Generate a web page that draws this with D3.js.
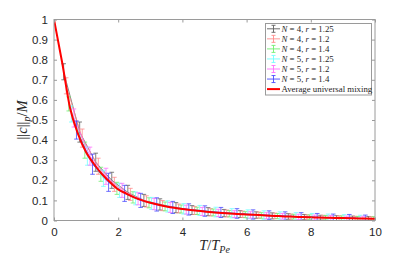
<!DOCTYPE html>
<html>
<head>
<meta charset="utf-8">
<script src="https://cdn.jsdelivr.net/npm/d3@7"></script>
<style>
  body { margin: 0; background: #fff; }
  svg { display: block; }
</style>
</head>
<body>
<div id="chart"></div>
<script>
// normalised concentration decay, six mixing configurations + average curve

const avgT = [0, 0.25, 0.5, 0.75, 1, 1.25, 1.5, 1.75, 2, 2.25, 2.5, 2.75, 3, 3.25, 3.5, 3.75, 4, 4.25, 4.5, 4.75, 5,
  5.25, 5.5, 5.75, 6, 6.25, 6.5, 6.75, 7, 7.25, 7.5, 7.75, 8, 8.25, 8.5, 8.75, 9, 9.25, 9.5, 9.75, 10];
const avgVal = [1, 0.79, 0.56, 0.43, 0.34, 0.28, 0.23, 0.19, 0.155, 0.134, 0.115, 0.1, 0.088, 0.078, 0.07, 0.063, 0.057,
  0.052, 0.048, 0.044, 0.04, 0.037, 0.035, 0.032, 0.03, 0.028, 0.026, 0.024, 0.022, 0.02, 0.019, 0.017, 0.016, 0.015,
  0.014, 0.013, 0.012, 0.011, 0.01, 0.0095, 0.009];

const blackT = [0.3, 0.8, 1.3, 1.8, 2.3, 2.8, 3.3, 3.8, 4.3, 4.8, 5.3, 5.8, 6.3, 6.8, 7.3, 7.8, 8.3, 8.8, 9.3, 9.8];
const blackVal = [0.74, 0.44, 0.29, 0.2, 0.14, 0.1, 0.08, 0.064, 0.052, 0.044, 0.037, 0.032, 0.027, 0.023, 0.02, 0.017, 0.014, 0.012, 0.011, 0.009];
const blackErr = [0.04, 0.05, 0.045, 0.04, 0.035, 0.03, 0.028, 0.025, 0.022, 0.02, 0.018, 0.017, 0.016, 0.015, 0.014, 0.013, 0.012, 0.012, 0.011, 0.011];

const redT = [0.38, 0.88, 1.38, 1.88, 2.38, 2.88, 3.38, 3.88, 4.38, 4.88, 5.38, 5.88, 6.38, 6.88, 7.38, 7.88, 8.38, 8.88, 9.38, 9.88];
const redVal = [0.67, 0.41, 0.27, 0.18, 0.13, 0.095, 0.074, 0.06, 0.05, 0.041, 0.035, 0.031, 0.027, 0.023, 0.019, 0.016, 0.014, 0.012, 0.01, 0.009];
const redErr = [0.04, 0.045, 0.04, 0.035, 0.03, 0.028, 0.025, 0.022, 0.02, 0.018, 0.017, 0.016, 0.015, 0.014, 0.013, 0.012, 0.012, 0.011, 0.011, 0.01];

const greenT = [0.46, 0.96, 1.46, 1.96, 2.46, 2.96, 3.46, 3.96, 4.46, 4.96, 5.46, 5.96, 6.46, 6.96, 7.46, 7.96, 8.46, 8.96, 9.46, 9.96];
const greenVal = [0.58, 0.35, 0.23, 0.16, 0.115, 0.088, 0.07, 0.057, 0.048, 0.04, 0.034, 0.029, 0.025, 0.022, 0.019, 0.016, 0.014, 0.012, 0.01, 0.009];
const greenErr = [0.035, 0.04, 0.035, 0.03, 0.028, 0.025, 0.022, 0.02, 0.018, 0.017, 0.016, 0.015, 0.014, 0.013, 0.012, 0.012, 0.011, 0.011, 0.01, 0.01];

const cyanT = [0.54, 1.04, 1.54, 2.04, 2.54, 3.04, 3.54, 4.04, 4.54, 5.04, 5.54, 6.04, 6.54, 7.04, 7.54, 8.04, 8.54, 9.04, 9.54];
const cyanVal = [0.53, 0.32, 0.21, 0.15, 0.11, 0.085, 0.07, 0.058, 0.05, 0.042, 0.036, 0.031, 0.027, 0.023, 0.02, 0.017, 0.015, 0.013, 0.011];
const cyanErr = [0.04, 0.045, 0.04, 0.035, 0.032, 0.03, 0.028, 0.026, 0.025, 0.024, 0.023, 0.022, 0.021, 0.02, 0.019, 0.018, 0.017, 0.016, 0.015];

const magentaT = [0.62, 1.12, 1.62, 2.12, 2.62, 3.12, 3.62, 4.12, 4.62, 5.12, 5.62, 6.12, 6.62, 7.12, 7.62, 8.12, 8.62, 9.12, 9.62];
const magentaVal = [0.51, 0.32, 0.22, 0.15, 0.108, 0.082, 0.065, 0.054, 0.045, 0.038, 0.032, 0.028, 0.024, 0.021, 0.018, 0.015, 0.013, 0.011, 0.01];
const magentaErr = [0.045, 0.045, 0.04, 0.035, 0.03, 0.028, 0.025, 0.022, 0.02, 0.018, 0.017, 0.016, 0.015, 0.014, 0.013, 0.012, 0.012, 0.011, 0.011];

const blueT = [0.7, 1.2, 1.7, 2.2, 2.7, 3.2, 3.7, 4.2, 4.7, 5.2, 5.7, 6.2, 6.7, 7.2, 7.7, 8.2, 8.7, 9.2, 9.7];
const blueVal = [0.45, 0.28, 0.19, 0.135, 0.1, 0.08, 0.065, 0.055, 0.047, 0.04, 0.035, 0.03, 0.026, 0.022, 0.019, 0.016, 0.014, 0.012, 0.01];
const blueErr = [0.045, 0.05, 0.045, 0.04, 0.035, 0.033, 0.03, 0.028, 0.026, 0.025, 0.024, 0.023, 0.022, 0.021, 0.02, 0.019, 0.018, 0.018, 0.017];

const seriesN = ['4', '4', '4', '5', '5', '5'];
const seriesR = ['1.25', '1.2', '1.4', '1.25', '1.2', '1.4'];
const seriesColors = ['#606060', '#ff8a8a', '#70ee70', '#70ffff', '#ff70ff', '#4a4aff'];

const xTicks = [0, 2, 4, 6, 8, 10];
const yTicks = [0, 0.1, 0.2, 0.3, 0.4, 0.5, 0.6, 0.7, 0.8, 0.9, 1];

const series = [
  [blackT, blackVal, blackErr], [redT, redVal, redErr], [greenT, greenVal, greenErr],
  [cyanT, cyanVal, cyanErr], [magentaT, magentaVal, magentaErr], [blueT, blueVal, blueErr]
].map(function (s, i) {
  return {
    n: seriesN[i], r: seriesR[i], color: seriesColors[i],
    pts: s[0].map(function (t, j) { return { t: t, v: s[1][j], e: s[2][j] }; })
  };
});

const svgWidth = 415;
const svgHeight = 257;
const plotLeft = 54, plotRight = 375, plotTop = 19.5, plotBottom = 220.5;
const axisColor = '#9a9a9a';
const textColor = '#262626';

const svg = d3.select('#chart').append('svg')
  .attr('width', svgWidth)
  .attr('height', svgHeight);

const xScale = d3.scaleLinear().domain([0, 10]).range([plotLeft, plotRight]);
const yScale = d3.scaleLinear().domain([0, 1]).range([plotBottom, plotTop]);

svg.append('clipPath').attr('id', 'clip')
  .append('rect')
  .attr('x', plotLeft).attr('y', plotTop)
  .attr('width', plotRight - plotLeft).attr('height', plotBottom - plotTop);

const plot = svg.append('g').attr('clip-path', 'url(#clip)');

// series lines and error bars
const line = d3.line().x((d) => xScale(d.t)).y((d) => yScale(d.v));
const cap = 2.3;
series.forEach(function (s) {
  const g = plot.append('g');
  g.append('path')
    .datum(s.pts)
    .attr('d', line)
    .attr('fill', 'none')
    .attr('stroke', s.color)
    .attr('stroke-width', 0.8);
  const bars = g.selectAll('g.bar').data(s.pts).enter().append('g').attr('class', 'bar')
    .attr('stroke', s.color).attr('stroke-width', 0.8);
  bars.append('line')
    .attr('x1', (d) => xScale(d.t)).attr('x2', (d) => xScale(d.t))
    .attr('y1', (d) => yScale(d.v - d.e)).attr('y2', (d) => yScale(d.v + d.e));
  bars.append('line')
    .attr('x1', (d) => xScale(d.t) - cap).attr('x2', (d) => xScale(d.t) + cap)
    .attr('y1', (d) => yScale(d.v + d.e)).attr('y2', (d) => yScale(d.v + d.e));
  bars.append('line')
    .attr('x1', (d) => xScale(d.t) - cap).attr('x2', (d) => xScale(d.t) + cap)
    .attr('y1', (d) => yScale(d.v - d.e)).attr('y2', (d) => yScale(d.v - d.e));
});

// average curve
const avgData = avgT.map((t, i) => ({ t: t, v: avgVal[i] }));
plot.append('path')
  .datum(avgData)
  .attr('d', d3.line().x((d) => xScale(d.t)).y((d) => yScale(d.v)).curve(d3.curveMonotoneX))
  .attr('fill', 'none')
  .attr('stroke', '#ff0000')
  .attr('stroke-width', 2);

// axes (box with inward ticks)
function styleAxis(g) {
  g.select('.domain').remove();
  g.selectAll('.tick line').attr('stroke', axisColor);
  g.selectAll('.tick text')
    .attr('fill', textColor)
    .style('font-family', 'Liberation Sans, Arial, sans-serif')
    .style('font-size', '11.5px');
}

svg.append('g')
  .attr('transform', 'translate(0,' + plotBottom + ')')
  .call(d3.axisBottom(xScale).tickValues(xTicks).tickFormat(d3.format('d')).tickSizeInner(-3).tickPadding(7))
  .call(styleAxis);
svg.append('g')
  .attr('transform', 'translate(0,' + plotTop + ')')
  .call(d3.axisTop(xScale).tickValues(xTicks).tickFormat('').tickSizeInner(-3))
  .call(styleAxis);
svg.append('g')
  .attr('transform', 'translate(' + plotLeft + ',0)')
  .call(d3.axisLeft(yScale).tickValues(yTicks).tickFormat(d3.format('')).tickSizeInner(-3).tickPadding(6))
  .call(styleAxis);
svg.append('g')
  .attr('transform', 'translate(' + plotRight + ',0)')
  .call(d3.axisRight(yScale).tickValues(yTicks).tickFormat('').tickSizeInner(-3))
  .call(styleAxis);

svg.append('rect')
  .attr('x', plotLeft).attr('y', plotTop)
  .attr('width', plotRight - plotLeft).attr('height', plotBottom - plotTop)
  .attr('fill', 'none')
  .attr('stroke', axisColor)
  .attr('stroke-width', 1);

// axis labels
const serif = 'Liberation Serif, DejaVu Serif, serif';
const xLabel = svg.append('text')
  .attr('x', (plotLeft + plotRight) / 2)
  .attr('y', 250)
  .attr('text-anchor', 'middle')
  .attr('fill', textColor)
  .style('font-family', serif)
  .style('font-size', '14.5px');
xLabel.append('tspan').style('font-style', 'italic').text('T');
xLabel.append('tspan').text('/');
xLabel.append('tspan').style('font-style', 'italic').text('T');
xLabel.append('tspan').style('font-style', 'italic').style('font-size', '10px').attr('dy', 3).text('Pe');

const yLabel = svg.append('text')
  .attr('transform', 'translate(27,' + (plotTop + plotBottom) / 2 + ') rotate(-90)')
  .attr('text-anchor', 'middle')
  .attr('fill', textColor)
  .style('font-family', serif)
  .style('font-size', '14.5px');
yLabel.append('tspan').text('||');
yLabel.append('tspan').style('font-style', 'italic').text('c');
yLabel.append('tspan').text('||');
yLabel.append('tspan').style('font-style', 'italic').style('font-size', '10px').attr('dy', 3).text('p');
yLabel.append('tspan').attr('dy', -3).text('/');
yLabel.append('tspan').style('font-style', 'italic').text('M');

// legend
const lgX = 265.5, lgY = 23.5, lgW = 106, lgH = 71.5, rowH = 10.05;
const legend = svg.append('g');
legend.append('rect')
  .attr('x', lgX).attr('y', lgY).attr('width', lgW).attr('height', lgH)
  .attr('fill', '#fff').attr('stroke', axisColor).attr('stroke-width', 1);

series.forEach(function (s, i) {
  const cy = lgY + 5.3 + i * rowH;
  const g = legend.append('g').attr('stroke', s.color).attr('stroke-width', 0.9);
  g.append('line').attr('x1', 267).attr('x2', 280).attr('y1', cy).attr('y2', cy);
  g.append('line').attr('x1', 273.5).attr('x2', 273.5).attr('y1', cy - 3.5).attr('y2', cy + 3.5);
  g.append('line').attr('x1', 271.5).attr('x2', 275.5).attr('y1', cy - 3.5).attr('y2', cy - 3.5);
  g.append('line').attr('x1', 271.5).attr('x2', 275.5).attr('y1', cy + 3.5).attr('y2', cy + 3.5);
  const t = legend.append('text')
    .attr('x', 281.5).attr('y', cy + 3)
    .attr('fill', textColor)
    .style('font-family', serif)
    .style('font-size', '8.8px');
  t.append('tspan').style('font-style', 'italic').text('N');
  t.append('tspan').text(' = ' + s.n + ', ');
  t.append('tspan').style('font-style', 'italic').text('r');
  t.append('tspan').text(' = ' + s.r);
});

const avgRowY = lgY + 5.3 + 6 * rowH;
legend.append('line')
  .attr('x1', 267).attr('x2', 280).attr('y1', avgRowY).attr('y2', avgRowY)
  .attr('stroke', '#ff0000').attr('stroke-width', 2);
legend.append('text')
  .attr('x', 281.5).attr('y', avgRowY + 3)
  .attr('fill', textColor)
  .style('font-family', serif)
  .style('font-size', '8.8px')
  .text('Average universal mixing');
</script>
</body>
</html>
